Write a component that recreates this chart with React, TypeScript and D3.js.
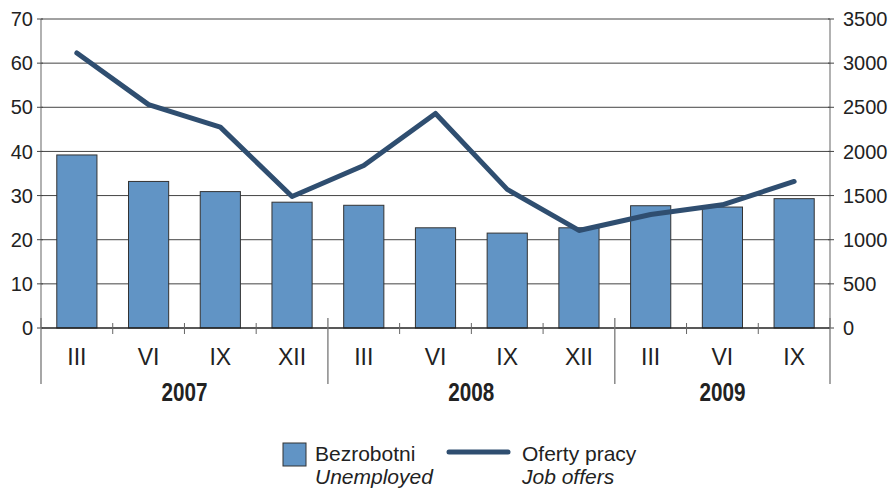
import React from "react";
import * as d3 from "d3";

// quarters on the x axis and the year groups below them
const months = ["III", "VI", "IX", "XII", "III", "VI", "IX", "XII", "III", "VI", "IX"];
const years = ["2007", "2008", "2009"];
const yearSpans = [4, 4, 3];

// Bezrobotni / Unemployed (left axis)
const unemployed = [39.2, 33.2, 30.9, 28.5, 27.8, 22.7, 21.5, 22.7, 27.7, 27.4, 29.3];
// Oferty pracy / Job offers (right axis)
const jobOffers = [3115, 2530, 2275, 1490, 1840, 2430, 1570, 1105, 1285, 1395, 1660];

const leftTicks = [0, 10, 20, 30, 40, 50, 60, 70];
const rightTicks = [0, 500, 1000, 1500, 2000, 2500, 3000, 3500];

const W = 892;
const H = 488;
const margin = { top: 19, left: 41, right: 62, bottom: 160 };
const barFill = "#6194c5";
const lineColor = "#2f4e70";
const font = "'Liberation Sans', Arial, sans-serif";

export default function App() {
  const x0 = margin.left;
  const x1 = W - margin.right;
  const y0 = H - margin.bottom;

  const x = d3
    .scaleBand<number>()
    .domain(d3.range(months.length))
    .range([x0, x1])
    .paddingInner(0.44)
    .paddingOuter(0.22);
  const yL = d3.scaleLinear().domain([0, 70]).range([y0, margin.top]);
  const yR = d3.scaleLinear().domain([0, 3500]).range([y0, margin.top]);
  const step = x.step();
  const center = (i: number) => (x(i) ?? 0) + x.bandwidth() / 2;

  const line = d3
    .line<number>()
    .x((_, i) => center(i))
    .y((d) => yR(d));

  // year separators: left edge of every year group plus the right end
  const seps: number[] = [0];
  yearSpans.reduce((acc, n) => {
    seps.push(acc + n);
    return acc + n;
  }, 0);

  let start = 0;
  const yearPos = yearSpans.map((n) => {
    const mid = x0 + step * (start + n / 2);
    start += n;
    return mid;
  });

  return (
    <svg width={W} height={H} style={{ position: "absolute", left: 0, top: 0, background: "#fff" }}>
      {/* gridlines */}
      {leftTicks.slice(1).map((t) => (
        <line key={t} x1={x0} x2={x1} y1={yL(t)} y2={yL(t)} stroke="#444" strokeWidth={1} />
      ))}

      {/* bars */}
      {unemployed.map((v, i) => (
        <rect
          key={i}
          x={x(i)}
          y={yL(v)}
          width={x.bandwidth()}
          height={y0 - yL(v)}
          fill={barFill}
          stroke="#333"
          strokeWidth={1}
        />
      ))}

      {/* axes */}
      <line x1={x0} x2={x0} y1={margin.top} y2={y0} stroke="#888" strokeWidth={1.3} />
      <line x1={x1} x2={x1} y1={margin.top} y2={y0} stroke="#888" strokeWidth={1.3} />
      <line x1={x0} x2={x1} y1={y0} y2={y0} stroke="#222" strokeWidth={1.3} />

      {leftTicks.map((t) => (
        <g key={"l" + t}>
          <line x1={x0 - 4} x2={x0 + 2} y1={yL(t)} y2={yL(t)} stroke="#444" />
          <text
            x={33}
            y={yL(t)}
            dy="0.36em"
            textAnchor="end"
            fontFamily={font}
            fontSize={20}
            fill="#222"
          >
            {t}
          </text>
        </g>
      ))}
      {rightTicks.map((t) => (
        <g key={"r" + t}>
          <line x1={x1 - 2} x2={x1 + 4} y1={yR(t)} y2={yR(t)} stroke="#444" />
          <text x={843} y={yR(t)} dy="0.36em" fontFamily={font} fontSize={20} fill="#222">
            {t}
          </text>
        </g>
      ))}

      {/* small ticks between quarters */}
      {d3.range(1, months.length).filter((i) => !seps.includes(i)).map((i) => (
        <line key={"t" + i} x1={x0 + step * i} x2={x0 + step * i} y1={y0 - 5} y2={y0 + 6} stroke="#666" />
      ))}
      {/* year separators reaching down */}
      {seps.map((s) => (
        <line key={"s" + s} x1={x0 + step * s} x2={x0 + step * s} y1={y0 - 10} y2={384} stroke="#777" strokeWidth={1.3} />
      ))}

      {months.map((m, i) => (
        <text key={"m" + i} x={center(i)} y={365} textAnchor="middle" fontFamily={font} fontSize={23} fill="#222">
          {m}
        </text>
      ))}
      {years.map((yr, i) => (
        <text
          key={yr}
          x={yearPos[i] - 23}
          y={401}
          textLength={46}
          lengthAdjust="spacingAndGlyphs"
          fontFamily={font}
          fontWeight="bold"
          fontSize={26}
          fill="#222"
        >
          {yr}
        </text>
      ))}

      {/* job offers line */}
      <path d={line(jobOffers) ?? ""} fill="none" stroke={lineColor} strokeWidth={5} strokeLinejoin="round" strokeLinecap="round" />

      {/* legend */}
      <rect x={283} y={443} width={23} height={23} fill={barFill} stroke="#333" />
      <text x={315} y={461} fontFamily={font} fontSize={21} fill="#222">Bezrobotni</text>
      <text x={315} y={484} fontFamily={font} fontSize={21} fontStyle="italic" fill="#222">Unemployed</text>
      <line x1={449} x2={508} y1={452} y2={452} stroke={lineColor} strokeWidth={5} strokeLinecap="round" />
      <text x={522} y={461} fontFamily={font} fontSize={21} fill="#222">Oferty pracy</text>
      <text x={522} y={484} fontFamily={font} fontSize={21} fontStyle="italic" fill="#222">Job offers</text>
    </svg>
  );
}
